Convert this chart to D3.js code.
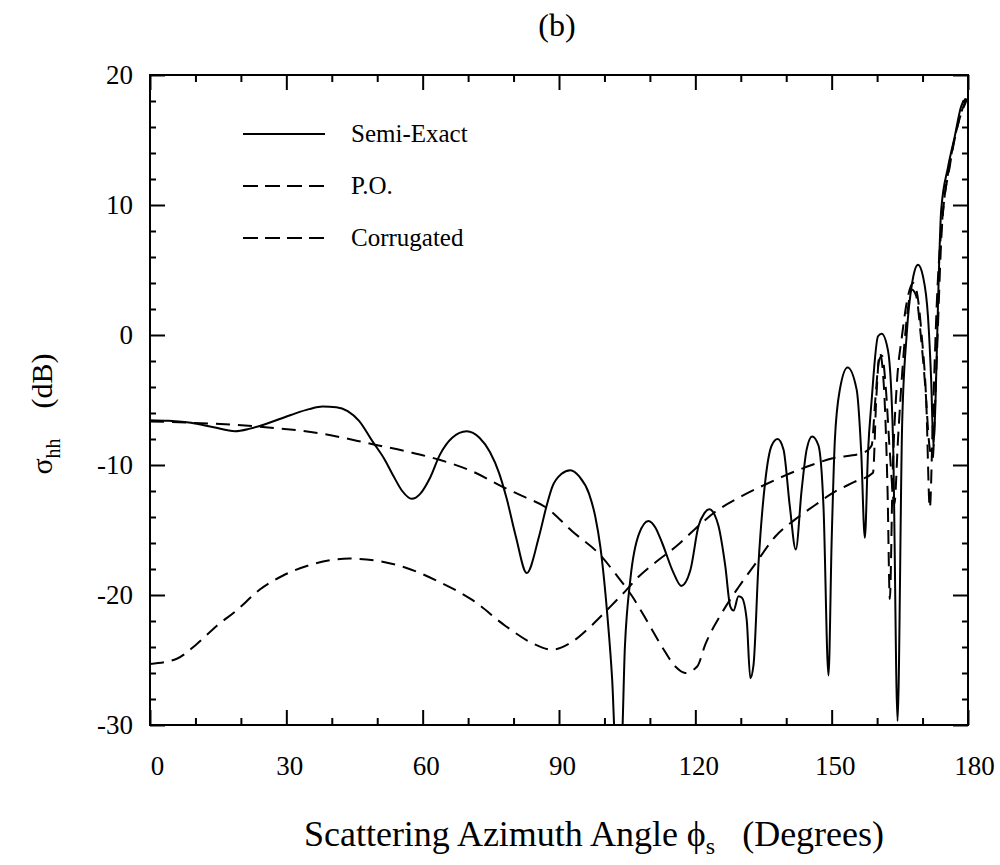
<!DOCTYPE html>
<html>
<head>
<meta charset="utf-8">
<script src="https://cdn.jsdelivr.net/npm/d3@7"></script>
<style>
	body { margin: 0; background: #fff; }
	svg { display: block; font-family: "Liberation Serif", "Times New Roman", serif; }
</style>
</head>
<body>
<div id="chart"></div>
<script>
(function () {

	"use strict";

	//semi-exact curve (angle in degrees, sigma in dB)
	var semiAngle = [0, 4, 9, 14, 18.7, 22, 25, 31, 35, 38, 41, 43.5, 46, 49, 51.5, 53.5, 55.5, 57.6, 59.5, 61.6, 63.8, 66.5, 69.7, 72.5, 74.8, 76.8, 78.5, 80.5, 82.9, 85.6, 87.3, 88.5, 90.5, 92.5, 94.5, 96.6, 98, 99.1, 100.6, 101.7, 102.5, 103.7, 104.5, 105.7, 107.6, 109.7, 111.2, 112.7, 115.2, 116.9, 118.9, 120.7, 122, 123.1, 124.2, 125.1, 126.6, 127.7, 128.4, 129.5, 130.2, 131.3, 132.1, 132.8, 133.9, 135.4, 136.8, 138.1, 139.4, 140.8, 142.1, 143.4, 144.5, 145.7, 147.1, 148.2, 149.3, 150, 150.7, 151.8, 153.5, 155.5, 156.5, 157.3, 158, 158.8, 160.2, 161, 162.4, 163.5, 164.5, 165.5, 166.5, 167.8, 169, 170.1, 171.2, 171.9, 172.4, 172.9, 173.4, 174.1, 175.6, 177.1, 178.5, 179.5];
	var semiDb = [-6.55, -6.6, -6.75, -7.1, -7.4, -7.2, -6.9, -6.15, -5.7, -5.5, -5.55, -5.85, -6.6, -8.2, -9.5, -10.8, -12.0, -12.6, -12.2, -11.0, -9.2, -7.9, -7.4, -7.9, -9.0, -10.6, -12.6, -15.5, -18.3, -15.5, -13.1, -11.7, -10.7, -10.4, -10.9, -12.2, -14, -16.3, -21.4, -26.5, -32, -32, -24.0, -18.8, -15.3, -14.3, -14.8, -16.0, -18.3, -19.3, -18.1, -14.7, -13.7, -13.4, -13.8, -14.7, -17.8, -20.9, -21.2, -20.1, -20.2, -21.9, -26.4, -25.4, -17.6, -11.2, -8.5, -8.0, -8.8, -13.2, -16.5, -11.9, -8.8, -7.8, -8.5, -13.2, -26.2, -15.8, -8.1, -4.2, -2.5, -4.2, -9, -15.6, -9, -5, -0.1, 0.1, -1.2, -8, -29.7, -7, 0, 4.2, 5.4, 4.5, 1.4, -3.5, -8.6, -4.5, 2.4, 9.6, 12.9, 15.3, 17.6, 18.2];

	//physical optics curve
	var poAngle = [0, 9, 24, 38, 49, 57, 63.7, 71, 77.7, 82, 87.3, 92.9, 99, 102.5, 106.1, 109.7, 112.7, 115.6, 117.8, 120.4, 122.2, 125.8, 129.5, 133.2, 137.6, 141.9, 146.3, 150, 155, 159.1, 159.8, 160.6, 161.5, 162.3, 162.8, 163.4, 164.3, 165.5, 166.8, 167.9, 168.8, 169.8, 170.8, 171.6, 172.3, 173.2, 174.5, 176, 177.5, 179, 180];
	var poDb = [-6.65, -6.75, -7.05, -7.6, -8.4, -9.0, -9.6, -10.5, -11.7, -12.4, -13.3, -15.1, -16.9, -18.4, -20.1, -22.2, -24.0, -25.5, -26.0, -25.5, -23.8, -21.4, -19.4, -17.6, -15.5, -14.2, -13.1, -12.2, -11.3, -10.6, -5, -1.4, -4, -12, -20.3, -11, -4, 0, 3, 4.0, 3.2, 0, -5, -13.3, -6, 3, 9.5, 13.2, 15.8, 17.6, 18.3];

	//corrugated surface curve
	var corrAngle = [0, 5.9, 10.2, 14.6, 19, 24.1, 29.3, 35.1, 43.9, 50.5, 56.3, 63.7, 71, 78.3, 84.1, 88.5, 92.9, 97.3, 101, 104.6, 107.5, 111.2, 116, 120, 124.4, 130.2, 135.4, 139.8, 145.6, 150, 157, 158.8, 159.6, 160.4, 161.1, 161.9, 162.8, 163.8, 164.6, 165.5, 166.6, 167.6, 168.6, 169.6, 170.6, 171.5, 172.2, 173, 174.3, 176, 177.8, 179.5];
	var corrDb = [-25.3, -24.9, -23.8, -22.4, -21.2, -19.6, -18.5, -17.7, -17.2, -17.4, -17.9, -19.0, -20.4, -22.4, -23.7, -24.2, -23.6, -22.3, -21.0, -19.7, -18.6, -17.5, -16.2, -14.9, -13.6, -12.4, -11.5, -10.8, -10.0, -9.5, -9.05, -8.5, -5, -2, -1.6, -4, -9, -13, -8, -3, 1.5, 3.5, 3, 0, -4, -8.5, -9.5, -3, 8.5, 13, 16.2, 17.9];

	//tick values
	var xMajor = [0, 30, 60, 90, 120, 150, 180];
	var xMinor = [10, 20, 40, 50, 70, 80, 100, 110, 130, 140, 160, 170];
	var yMajor = [-30, -20, -10, 0, 10, 20];
	var yMinor = [-28, -26, -24, -22, -18, -16, -14, -12, -8, -6, -4, -2, 2, 4, 6, 8, 12, 14, 16, 18];

	var legendNames = ["Semi-Exact", "P.O.", "Corrugated"];

	var width = 1000,
		height = 865,
		left = 150,
		right = 968,
		top = 75,
		bottom = 725;

	var svg = d3.select("#chart").append("svg")
		.attr("width", width)
		.attr("height", height);

	var x = d3.scaleLinear().domain([0, 180]).range([left, right]);
	var y = d3.scaleLinear().domain([-30, 20]).range([bottom, top]);

	//clip curves to the frame
	svg.append("clipPath").attr("id", "plotclip")
		.append("rect")
		.attr("x", left).attr("y", top)
		.attr("width", right - left).attr("height", bottom - top);

	var line = d3.line()
		.x(function (d) { return x(d[0]); })
		.y(function (d) { return y(d[1]); })
		.curve(d3.curveMonotoneX);

	function pairs(a, b) {
		return a.map(function (v, i) { return [v, b[i]]; });
	}

	var curves = [
		{ data: pairs(semiAngle, semiDb), dash: null },
		{ data: pairs(poAngle, poDb), dash: "14,8" },
		{ data: pairs(corrAngle, corrDb), dash: "14,8" }
	];

	var plot = svg.append("g").attr("clip-path", "url(#plotclip)");
	curves.forEach(function (c) {
		plot.append("path")
			.attr("d", line(c.data))
			.attr("fill", "none")
			.attr("stroke", "#000")
			.attr("stroke-width", 2)
			.attr("stroke-linejoin", "round")
			.attr("stroke-dasharray", c.dash);
	});

	//axes, ticks pointing inward
	function styleAxis(g) {
		g.select(".domain").remove();
		g.selectAll(".tick line").attr("stroke", "#000").attr("stroke-width", 2);
		g.selectAll(".tick text")
			.attr("fill", "#000")
			.style("font-family", "'Liberation Serif', 'Times New Roman', serif")
			.style("font-size", "27px");
	}

	//plain hyphen for negatives, like the printed figure
	var plain = function (d) { return String(d); };

	var xb = svg.append("g").attr("transform", "translate(0," + bottom + ")")
		.call(d3.axisBottom(x).tickValues(xMajor).tickSize(-15).tickPadding(31).tickFormat(plain))
		.call(styleAxis);
	svg.append("g").attr("transform", "translate(0," + bottom + ")")
		.call(d3.axisBottom(x).tickValues(xMinor).tickSize(-7).tickFormat(""))
		.call(styleAxis);
	svg.append("g").attr("transform", "translate(0," + top + ")")
		.call(d3.axisTop(x).tickValues(xMajor).tickSize(-15).tickFormat(""))
		.call(styleAxis);
	svg.append("g").attr("transform", "translate(0," + top + ")")
		.call(d3.axisTop(x).tickValues(xMinor).tickSize(-7).tickFormat(""))
		.call(styleAxis);

	//labels sit a touch right of their ticks in the print
	xb.selectAll(".tick text").attr("dx", function (d) {
		return d === 0 ? 7 : (d === 180 ? 6 : 3);
	});

	svg.append("g").attr("transform", "translate(" + left + ",0)")
		.call(d3.axisLeft(y).tickValues(yMajor).tickSize(-15).tickPadding(17).tickFormat(plain))
		.call(styleAxis);
	svg.append("g").attr("transform", "translate(" + left + ",0)")
		.call(d3.axisLeft(y).tickValues(yMinor).tickSize(-6).tickFormat(""))
		.call(styleAxis);
	svg.append("g").attr("transform", "translate(" + right + ",0)")
		.call(d3.axisRight(y).tickValues(yMajor).tickSize(-15).tickFormat(""))
		.call(styleAxis);
	svg.append("g").attr("transform", "translate(" + right + ",0)")
		.call(d3.axisRight(y).tickValues(yMinor).tickSize(-6).tickFormat(""))
		.call(styleAxis);

	//frame
	svg.append("rect")
		.attr("x", left).attr("y", top)
		.attr("width", right - left).attr("height", bottom - top)
		.attr("fill", "none")
		.attr("stroke", "#000")
		.attr("stroke-width", 2);

	//legend
	var legend = svg.append("g");
	legendNames.forEach(function (name, i) {
		var ly = 134 + i * 52;
		legend.append("line")
			.attr("x1", 243).attr("x2", 325)
			.attr("y1", ly).attr("y2", ly)
			.attr("stroke", "#000")
			.attr("stroke-width", 2)
			.attr("stroke-dasharray", curves[i].dash === null ? null : "15,7");
		legend.append("text")
			.attr("x", 351).attr("y", ly + 8)
			.style("font-size", "25px")
			.text(name);
	});

	//title
	svg.append("text")
		.attr("x", 557).attr("y", 36)
		.attr("text-anchor", "middle")
		.style("font-size", "32px")
		.text("(b)");

	//x axis title
	var xt = svg.append("text")
		.attr("x", 594).attr("y", 846)
		.attr("text-anchor", "middle")
		.style("font-size", "36px");
	xt.append("tspan").text("Scattering Azimuth Angle \u03d5");
	xt.append("tspan").attr("dy", 8).style("font-size", "24px").text("s");
	xt.append("tspan").attr("dy", -8).text("\u00a0\u00a0 (Degrees)");

	//y axis title
	var yt = svg.append("text")
		.attr("transform", "translate(52,414) rotate(-90)")
		.attr("text-anchor", "middle")
		.style("font-size", "30px");
	yt.append("tspan").text("\u03c3");
	yt.append("tspan").attr("dy", 8).style("font-size", "20px").text("hh");
	yt.append("tspan").attr("dy", -8).text("\u00a0\u00a0\u00a0 (dB)");

}).call(this);
</script>
</body>
</html>
